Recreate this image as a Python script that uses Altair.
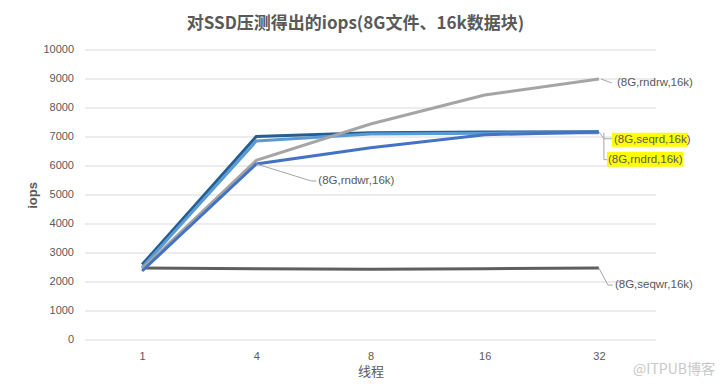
import json
import altair as alt
import pandas as pd

threads = ["1", "4", "8", "16", "32"]
series_names = ["(8G,seqwr,16k)", "(8G,seqrd,16k)", "(8G,rndrd,16k)", "(8G,rndrw,16k)", "(8G,rndwr,16k)"]
seqwr = [2480, 2460, 2440, 2460, 2480]
seqrd = [2600, 7020, 7150, 7170, 7180]
rndrd = [2500, 6860, 7100, 7130, 7150]
rndrw = [2450, 6200, 7450, 8450, 9000]
rndwr = [2380, 6070, 6630, 7080, 7170]
colors = ["#5f5f5f", "#255e91", "#5b9bd5", "#a5a5a5", "#4472c4"]
y_ticks = list(range(0, 10001, 1000))

all_values = [seqwr, seqrd, rndrd, rndrw, rndwr]
rows = []
for s_i, (name, vals) in enumerate(zip(series_names, all_values)):
    for i, v in enumerate(vals):
        rows.append({"series": name, "idx": i, "iops": v, "ord": s_i})
df = pd.DataFrame(rows)
ticks_df = pd.DataFrame({"iops": y_ticks, "lab": [str(t) for t in y_ticks]})

FONT = "Liberation Sans"
GRAY = "#595959"
label_expr = json.dumps(threads) + "[datum.value]"

x_scale = alt.Scale(domain=[-0.5, 4.5], nice=False, zero=False)
y_scale = alt.Scale(domain=[0, 10000], nice=False)

x_axis = alt.Axis(values=list(range(len(threads))), labelExpr=label_expr,
                  title="线程", grid=False, ticks=False, domain=False,
                  labelPadding=10, titlePadding=4, titleFont="Noto Sans CJK SC",
                  titleFontSize=13, titleFontWeight="normal", titleColor=GRAY,
                  labelColor=GRAY, labelFont=FONT, labelFontSize=11)
y_axis = alt.Axis(title="iops", labels=False, grid=False, ticks=False, domain=False,
                  titlePadding=46, titleFont=FONT,
                  titleFontSize=13, titleFontWeight="bold", titleColor=GRAY)

def X():
    return alt.X("idx:Q", scale=x_scale, axis=x_axis)

def Y():
    return alt.Y("iops:Q", scale=y_scale, axis=y_axis)

grid = alt.Chart(ticks_df).mark_rule(color="#d9d9d9", strokeWidth=1).encode(y=Y())
y_labels = alt.Chart(ticks_df).mark_text(
    align="right", baseline="middle", dx=-11, font=FONT, fontSize=11, color=GRAY
).encode(x=alt.value(0), y=Y(), text="lab:N")

lines = alt.Chart(df).mark_line(strokeWidth=3).encode(
    x=X(), y=Y(),
    color=alt.Color("series:N", scale=alt.Scale(domain=series_names, range=colors), legend=None),
    detail="series:N",
)

def point_df(name, vals, i):
    return pd.DataFrame([{"series": name, "idx": i, "iops": vals[i]}])

def leader(d, ox1, oy1, ox2, oy2):
    return alt.Chart(d).mark_rule(color="#a6a6a6", strokeWidth=1,
                                  xOffset=ox1, yOffset=oy1, x2Offset=ox2, y2Offset=oy2).encode(
        x=X(), y=Y(), x2="idx:Q", y2="iops:Q")

def box(d, ox1, oy1, ox2, oy2):
    return alt.Chart(d).mark_rect(color="#ffff00",
                                  xOffset=ox1, yOffset=oy1, x2Offset=ox2, y2Offset=oy2).encode(
        x=X(), y=Y(), x2="idx:Q", y2="iops:Q")

def label(d, dx, dy):
    return alt.Chart(d).mark_text(align="left", baseline="middle", dx=dx, dy=dy,
                                  font=FONT, fontSize=11.5, color=GRAY).encode(
        x=X(), y=Y(), text="series:N")

d_rndrw = point_df(series_names[3], rndrw, 4)
d_seqrd = point_df(series_names[1], seqrd, 4)
d_rndrd = point_df(series_names[2], rndrd, 4)
d_seqwr = point_df(series_names[0], seqwr, 4)
d_rndwr = point_df(series_names[4], rndwr, 1)

annotations = [
    leader(d_rndrw, 2, 0, 13, 4), label(d_rndrw, 18, 4),
    box(d_seqrd, 13, 1, 89, 15),
    leader(d_seqrd, 0, 0, 5, 7), leader(d_seqrd, 5, 7, 13, 7), label(d_seqrd, 15, 8),
    box(d_rndrd, 8, 19, 84, 34),
    leader(d_rndrd, 5, 0, 5, 27), leader(d_rndrd, 5, 27, 8, 27), label(d_rndrd, 9, 27),
    leader(d_seqwr, 0, 0, 9, 17), leader(d_seqwr, 9, 17, 14, 17), label(d_seqwr, 16, 17),
    leader(d_rndwr, 0, 0, 55, 17), leader(d_rndwr, 55, 17, 60, 17), label(d_rndwr, 62, 17),
]

watermark = alt.Chart(pd.DataFrame({"t": ["@ITPUB博客"]})).mark_text(
    align="right", baseline="middle", font="Noto Sans CJK SC", fontSize=14, color="#c8c8c8"
).encode(x=alt.value(630), y=alt.value(320), text="t:N")

chart = alt.layer(grid, y_labels, lines, *annotations, watermark).properties(
    width=571, height=290,
    autosize=alt.AutoSizeParams(type="none"),
    padding={"left": 77, "top": 42, "right": 61, "bottom": 38},
    title=alt.TitleParams("对SSD压测得出的iops(8G文件、16k数据块)", font="Noto Sans CJK SC",
                          fontSize=17, fontWeight="bold", color=GRAY, anchor="middle",
                          dx=-15, offset=11),
).configure(background="white").configure_view(strokeWidth=0, stroke="transparent")

chart.save("out.html", embed_options={"renderer": "svg", "actions": False})
